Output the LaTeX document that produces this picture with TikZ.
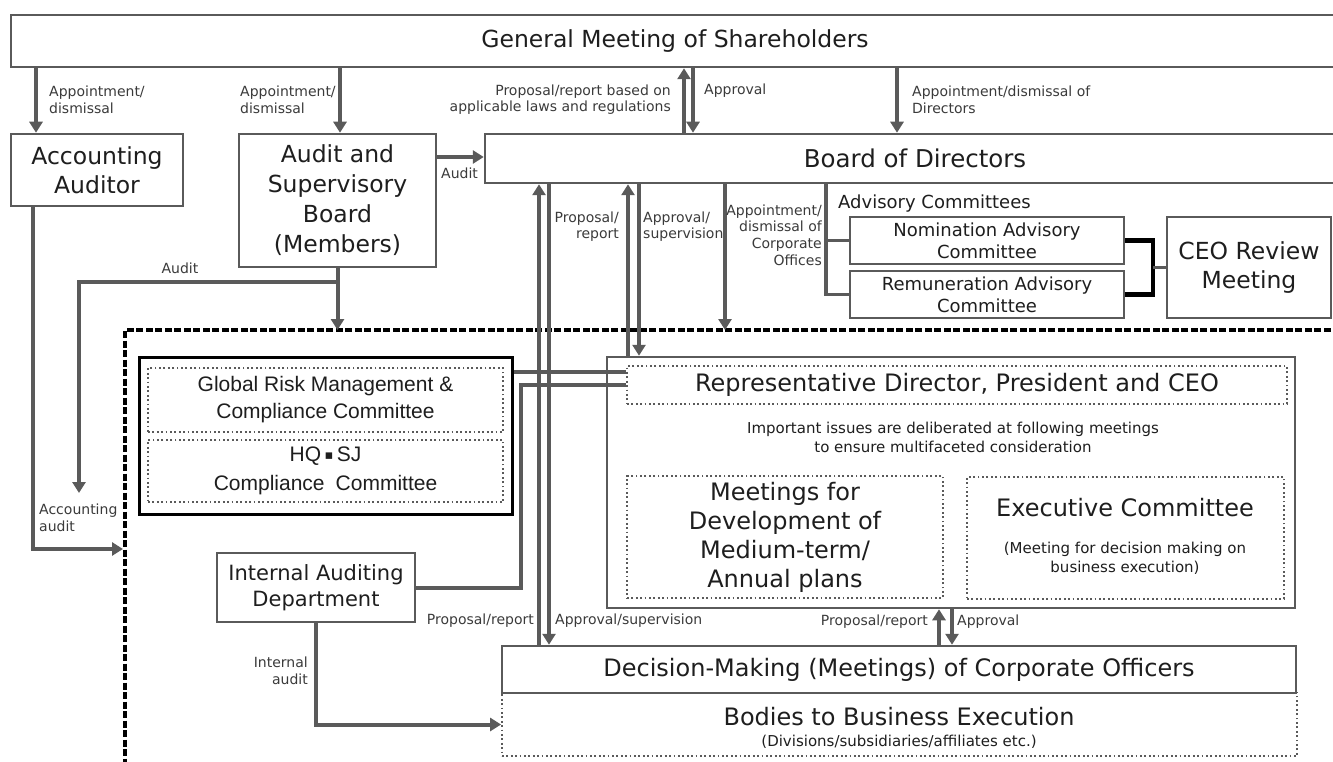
\documentclass[tikz,border=0pt]{standalone}
\usepackage{fontspec}
\setmainfont{DejaVu Sans}
\newfontfamily\arialf{Liberation Sans}
\usetikzlibrary{arrows.meta,calc}
\definecolor{lnc}{HTML}{5A5A5A}
\definecolor{txc}{HTML}{1E1E1E}
\definecolor{lbc}{HTML}{3A3A3A}
\tikzset{
  box/.style={draw=lnc, line width=2.5pt, fill=white, inner sep=0pt, text=txc},
  dbox/.style={draw=lnc, line width=1.8pt, dash pattern=on 1.8pt off 2.6pt, inner sep=0pt, text=txc},
  bigA/.style={font=\fontsize{23.5pt}{29pt}\selectfont, align=center},
  bigB/.style={font=\fontsize{24pt}{29pt}\selectfont, align=center},
  midf/.style={font=\fontsize{18pt}{22pt}\selectfont, align=center},
  arf/.style={font=\arialf\fontsize{21pt}{27pt}\selectfont, align=center},
  notef/.style={font=\fontsize{15pt}{19pt}\selectfont, align=center, text=txc, inner sep=0pt},
  lab/.style={font=\fontsize{14pt}{16.6pt}\selectfont, text=lbc, inner sep=0pt},
  arr/.style={draw=lnc, line width=4pt, -{Triangle[length=11pt,width=13pt]}},
  conn/.style={draw=lnc, line width=4pt},
  connthin/.style={draw=lnc, line width=2.5pt},
  bracket/.style={draw=black, line width=4.5pt},
  border/.style={draw=black, line width=4.5pt, dash pattern=on 7pt off 2.5pt},
}
\begin{document}
\begin{tikzpicture}[x=1pt,y=-1pt]
\useasboundingbox (0,0) rectangle (1333,762);
\clip (0,0) rectangle (1333,762);

% helper coordinates
\coordinate (x36) at (36,0);
\coordinate (x33) at (33,0);
\coordinate (x340) at (340,0);
\coordinate (x539) at (539,0);
\coordinate (x549) at (549,0);
\coordinate (x628) at (628,0);
\coordinate (x639) at (639,0);
\coordinate (x684) at (684,0);
\coordinate (x693) at (693,0);
\coordinate (x725) at (725,0);
\coordinate (x826) at (826,0);
\coordinate (x897) at (897,0);
\coordinate (x939) at (939,0);
\coordinate (x952) at (952,0);
\coordinate (x1153) at (1153,0);
\coordinate (x521) at (521,0);
\coordinate (y157) at (0,157);
\coordinate (y282) at (0,282);
\coordinate (y372) at (0,372);
\coordinate (y385) at (0,385);
\coordinate (btop) at (0,330);
\coordinate (accaud) at (79,493);
\coordinate (bleft) at (123,549);

% outer dashed region
\draw[border] (1340,330) -- (125,330) -- (125,770);

% boxes
\node[box,bigA,minimum width=1328pt,minimum height=52pt] (gm) at (675,41) {General Meeting of Shareholders};
\node[box,bigA,minimum width=172pt,minimum height=72pt] (acc) at (97,170) {Accounting\\Auditor};
\node[box,bigA,minimum width=197pt,minimum height=133pt,font=\fontsize{23.5pt}{30pt}\selectfont] (asb) at (337.5,200.5) {Audit and\\Supervisory\\Board\\(Members)};
\node[box,bigB,minimum width=860pt,minimum height=49pt,font=\fontsize{24.5pt}{29pt}\selectfont] (bod) at (915,158.5) {Board of Directors};
\node[box,midf,minimum width=274pt,minimum height=47pt] (nom) at (987,240.5) {Nomination Advisory\\Committee};
\node[box,midf,minimum width=274pt,minimum height=47pt] (rem) at (987,294.5) {Remuneration Advisory\\Committee};
\node[box,bigA,minimum width=164pt,minimum height=101pt] (ceo) at (1249,267.5) {CEO Review\\Meeting};
\node[lab,midf,anchor=west,text=txc] (advl) at (838,204) {Advisory Committees};

\node[box,minimum width=688pt,minimum height=251pt] (rep) at (951,482.5) {};
\node[dbox,bigB,minimum width=660pt,minimum height=38pt] (repd) at (957,385) {Representative Director, President and CEO};
\node[notef] (note) at (953,437.5) {Important issues are deliberated at following meetings\\to ensure multifaceted consideration};
\node[dbox,bigB,minimum width=316pt,minimum height=122pt] (meet) at (785,537) {Meetings for\\Development of\\Medium-term/\\Annual plans};
\node[dbox,minimum width=317pt,minimum height=122pt] (exec) at (1125.5,538) {};
\node[bigB,inner sep=0pt,text=txc] (exect) at (1125,508) {Executive Committee};
\node[notef] (execs) at (1125,558) {(Meeting for decision making on\\business execution)};

\node[box,draw=black,line width=3pt,minimum width=373pt,minimum height=157pt] (grc) at (325.5,435.5) {};
\node[dbox,arf,minimum width=355pt,minimum height=64pt] (grm) at (325.5,400) {Global Risk Management \&\\Compliance Committee};
\node[dbox,arf,minimum width=355pt,minimum height=62pt,font=\arialf\fontsize{21pt}{29pt}\selectfont] (hq) at (325.5,471) {HQ\,{\fontspec{DejaVu Sans}\fontsize{13pt}{13pt}\selectfont\raisebox{0.25ex}{▪}}\,SJ\\Compliance\hspace{0.25em} Committee};

\node[box,minimum width=198pt,minimum height=69pt,font=\fontsize{21pt}{26pt}\selectfont,align=center] (ia) at (316,587.5) {Internal Auditing\\Department};

\node[dbox,minimum width=795pt,minimum height=63pt] (bodies) at (899.5,724.5) {};
\node[bigB,inner sep=0pt,text=txc] (bodt) at (899,717) {Bodies to Business Execution};
\node[notef] (bods) at (899,742) {(Divisions/subsidiaries/affiliates etc.)};
\node[box,bigB,minimum width=794pt,minimum height=47pt] (dec) at (899,669.5) {Decision-Making (Meetings) of Corporate Officers};

% connectors
\draw[arr] (gm.south -| x36) -- (acc.north -| x36);
\draw[arr] (gm.south -| x340) -- (asb.north -| x340);
\draw[arr] (asb.east |- y157) -- (bod.west |- y157);
\draw[arr] (bod.north -| x684) -- (gm.south -| x684);
\draw[arr] (gm.south -| x693) -- (bod.north -| x693);
\draw[arr] (gm.south -| x897) -- (bod.north -| x897);

\draw[arr] (dec.north -| x539) -- (bod.south -| x539);
\draw[arr] (bod.south -| x549) -- (dec.north -| x549);
\draw[arr] (rep.north -| x628) -- (bod.south -| x628);
\draw[arr] (bod.south -| x639) -- (rep.north -| x639);
\draw[arr] (bod.south -| x725) -- (x725 |- btop);

\draw[conn,line width=3.5pt] (bod.south -| x826) |- (rem.west);
\draw[conn,line width=3.5pt] (x826 |- nom.west) -- (nom.west);
\draw[bracket] (nom.east) -| (x1153 |- rem.east) -- (rem.east);
\draw[connthin] (x1153 |- ceo.west) -- (ceo.west);

\draw[arr] (asb.south) -- (asb.south |- btop);
\draw[arr] (asb.south |- y282) -| (accaud);
\draw[arr] (acc.south -| x33) |- (bleft);

\draw[conn] (grc.east |- y372) -- (repd.west |- y372);
\draw[conn] (ia.east) -| (x521 |- y385) -- (repd.west |- y385);
\draw[arr] (ia.south) |- (bodies.west);

\draw[arr,line width=3.5pt] (dec.north -| x939) -- (rep.south -| x939);
\draw[arr,line width=3.5pt] (rep.south -| x952) -- (dec.north -| x952);

% labels
\node[lab,anchor=west,align=left] (l1) at (49,99.5) {Appointment/\\dismissal};
\node[lab,anchor=west,align=left] (l2) at (240,99.5) {Appointment/\\dismissal};
\node[lab,anchor=east,align=right] (l3) at (671,99.5) {Proposal/report based on\\applicable laws and regulations};
\node[lab,anchor=west] (l4) at (704,91) {Approval};
\node[lab,anchor=west,align=left] (l5) at (912,99.5) {Appointment/dismissal of\\Directors};
\node[lab,anchor=west] (l6) at (441,173) {Audit};
\node[lab,anchor=east,align=right] (l7) at (619,226.5) {Proposal/\\report};
\node[lab,anchor=west,align=left] (l8) at (643,226.5) {Approval/\\supervision};
\node[lab,anchor=east,align=right] (l9) at (822,235) {Appointment/\\dismissal of\\Corporate\\Offices};
\node[lab] (l10) at (180,268) {Audit};
\node[lab,anchor=west,align=left] (l11) at (39,518) {Accounting\\audit};
\node[lab,anchor=east,align=right] (l12) at (308,671) {Internal\\audit};
\node[lab,anchor=east] (l13) at (534,621) {Proposal/report};
\node[lab,anchor=west] (l14) at (555,621) {Approval/supervision};
\node[lab,anchor=east] (l15) at (928,622) {Proposal/report};
\node[lab,anchor=west] (l16) at (957,622) {Approval};
\end{tikzpicture}
\end{document}
